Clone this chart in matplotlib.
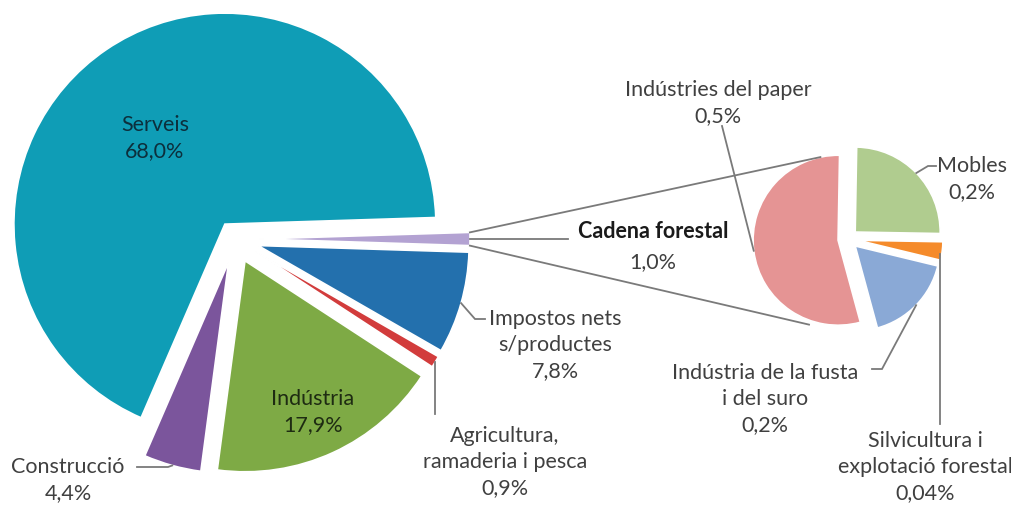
import math
import matplotlib
matplotlib.use("Agg")
import matplotlib.pyplot as plt

plt.rcParams['font.family'] = ['Lato', 'DejaVu Sans']

# ---- data ----
main_labels = ["Cadena forestal", "Impostos nets\ns/productes", "Agricultura,\nramaderia i pesca",
               "Indústria", "Construcció", "Serveis"]
main_values = [1.0, 7.8, 0.9, 17.9, 4.4, 68.0]
main_pct = ["1,0%", "7,8%", "0,9%", "17,9%", "4,4%", "68,0%"]

sub_labels = ["Mobles", "Silvicultura i\nexplotació forestal", "Indústria de la fusta\ni del suro",
              "Indústries del paper"]
sub_values = [0.25, 0.035, 0.17, 0.545]
sub_pct = ["0,2%", "0,04%", "0,2%", "0,5%"]

main_colors = ["#B3A2D2", "#2370AD", "#D23C3C", "#7EAA45", "#7B559C", "#0F9DB6"]
sub_colors = ["#B0CC8F", "#F58B2B", "#8AA9D6", "#E59494"]

W, H = 1012, 510
fig = plt.figure(figsize=(W / 100, H / 100), dpi=100)
ax = fig.add_axes([0, 0, 1, 1])

# layout (pixel coordinates, y up)
mc, mr = (235, 270), 211
sc, sr = (848, 270), 85
main_explode = [24, 24, 24, 24, 24, 18]
sub_explode = [10, 10, 10, 10]

wm, _ = ax.pie(main_values, explode=main_explode, colors=main_colors, startangle=1.8,
               counterclock=False, center=mc, radius=mr,
               wedgeprops=dict(edgecolor="white", linewidth=1.2))
ws, _ = ax.pie(sub_values, explode=sub_explode, colors=sub_colors, startangle=89,
               counterclock=False, center=sc, radius=sr,
               wedgeprops=dict(edgecolor="white", linewidth=1.2))

ax.set_xlim(0, W)
ax.set_ylim(0, H)
ax.set_aspect("equal")
ax.axis("off")


def arc_pt(w, frac=0.5, rf=1.0):
    t = math.radians(w.theta1 + frac * (w.theta2 - w.theta1))
    cx, cy = w.center
    return cx + rf * w.r * math.cos(t), cy + rf * w.r * math.sin(t)


def py(y):
    return H - y


line_c = "#7a7a7a"
txt_c = "#404040"
fs = 15.5

# connector lines from Cadena forestal slice to the secondary pie
cad = wm[0]
pink = ws[3]
p_top = arc_pt(cad, 1.0)
p_bot = arc_pt(cad, 0.0)
cx, cy = pink.center
t1, t2 = math.radians(102), math.radians(251)
q_top = (cx + pink.r * math.cos(t1), cy + pink.r * math.sin(t1))
q_bot = (cx + 1.05 * pink.r * math.cos(t2), cy + 1.05 * pink.r * math.sin(t2))
ax.plot([p_top[0], q_top[0]], [p_top[1], q_top[1]], color=line_c, lw=1.3, zorder=3)
ax.plot([p_bot[0], q_bot[0]], [p_bot[1], q_bot[1]], color=line_c, lw=1.3, zorder=3)


def leader(pts):
    ax.plot([p[0] for p in pts], [p[1] for p in pts], color=line_c, lw=1.3, zorder=3,
            solid_joinstyle="miter")


def label(x, y, s, color=txt_c, weight="normal"):
    ax.text(x, py(y), s, ha="center", va="center", fontsize=fs, color=color,
            fontweight=weight, linespacing=1.35, zorder=4)


# Serveis and Indústria inside
label(155, 138, main_labels[5] + "\n" + main_pct[5], color="#0c2f3c")
label(313, 412, main_labels[3] + "\n" + main_pct[3], color="#1e2b12")

# Construcció
a = arc_pt(wm[4])
leader([a, (168, py(468)), (137, py(468))])
label(68, 480, main_labels[4] + "\n" + main_pct[4])

# Agricultura
a = arc_pt(wm[2])
leader([a, (a[0], py(415))])
label(505, 462, main_labels[2] + "\n" + main_pct[2])

# Impostos
a = arc_pt(wm[1])
leader([a, (475, py(320)), (485, py(320))])
label(555, 345, main_labels[1] + "\n" + main_pct[1])

# Cadena forestal
a = arc_pt(wm[0])
leader([a, (568, a[1])])
ax.text(653, py(232), main_labels[0], ha="center", va="center", fontsize=fs,
        color="#1a1a1a", fontweight="bold", zorder=4)
ax.text(653, py(262), main_pct[0], ha="center", va="center", fontsize=fs,
        color=txt_c, zorder=4)

# Indústries del paper
a = arc_pt(ws[3])
leader([a, (722, py(127))])
label(718, 103, sub_labels[3] + "\n" + sub_pct[3])

# Mobles
a = arc_pt(ws[0])
leader([a, (928, py(167)), (936, py(167))])
label(972, 179, sub_labels[0] + "\n" + sub_pct[0])

# Fusta
a = arc_pt(ws[2])
leader([a, (882, py(370)), (872, py(370))])
label(765, 399, sub_labels[2] + "\n" + sub_pct[2])

# Silvicultura
a = arc_pt(ws[1])
leader([(940, py(255)), (940, py(425))])
label(925, 467, sub_labels[1] + "\n" + sub_pct[1])

fig.savefig("out.png", dpi=100, facecolor="white")
